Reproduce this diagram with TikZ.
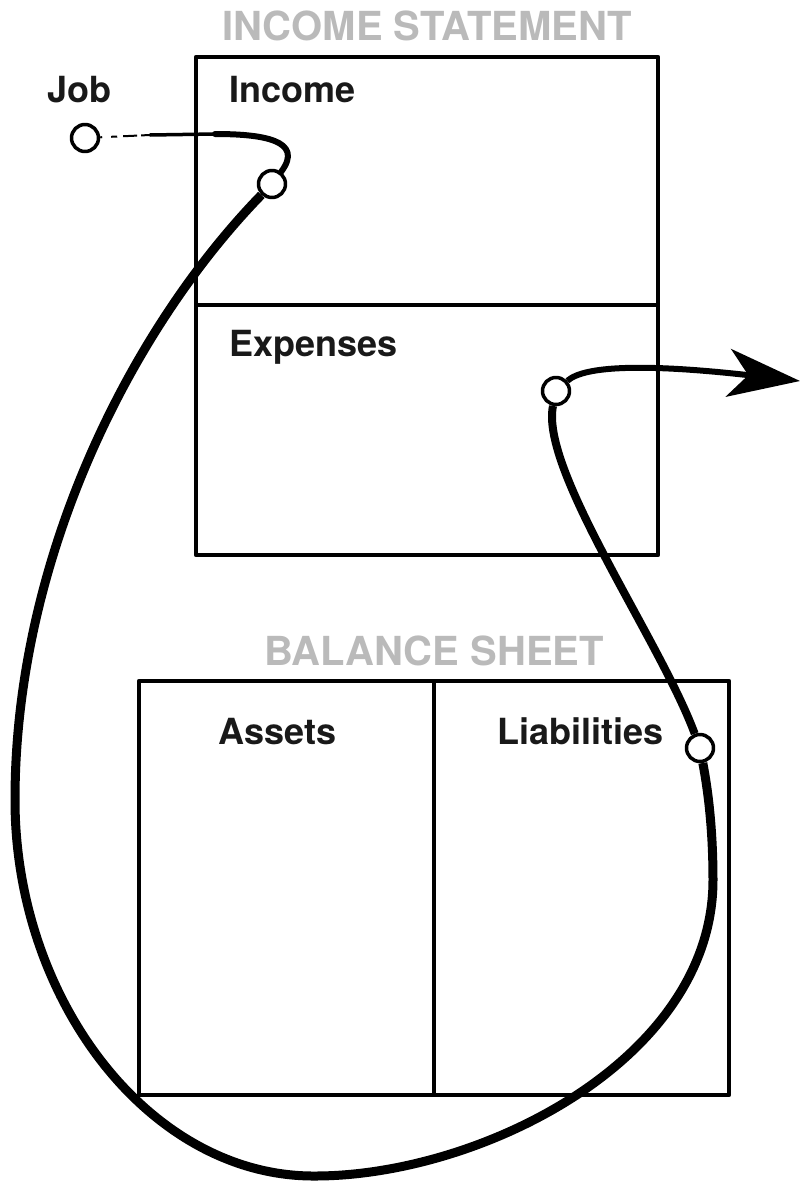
\documentclass[tikz,border=0pt]{standalone}
\usepackage{fontspec}
\setmainfont{TeX Gyre Heros}
\usetikzlibrary{arrows.meta}
\tikzstyle{port}=[circle,draw=black,line width=3.5pt,fill=white,minimum size=27pt,inner sep=0pt]
\tikzstyle{boxtext}=[anchor=base west,inner sep=0pt,text=black!90,font=\fontsize{36}{40}\selectfont\bfseries]
\tikzstyle{heading}=[anchor=base,inner sep=0pt,text=black!27,font=\fontsize{40}{44}\selectfont\bfseries]
\tikzstyle{frame}=[line width=4.5pt]
\tikzstyle{flow}=[line width=9pt]

\begin{document}
\begin{tikzpicture}[x=1pt,y=-1pt,line join=round]
  \useasboundingbox (0,0) rectangle (801,1181);

  \draw[frame] (196,57) rectangle (658,555) (196,305) -- (658,305);
  \draw[frame] (139,681) rectangle (729,1095) (434,681) -- (434,1095);

  \node[heading] (istitle) at (427,40)  {INCOME STATEMENT};
  \node[heading] (bstitle) at (434,665) {BALANCE SHEET};

  \node[boxtext] (jobtext) at (47,102)  {Job};
  \node[boxtext] (inctext) at (229,102) {Income};
  \node[boxtext] (exptext) at (229,356) {Expenses};
  \node[boxtext] (asstext) at (218,744) {Assets};
  \node[boxtext] (liatext) at (497,744) {Liabilities};

  \node[port] (jobc) at (85,138)  {};
  \node[port] (incc) at (272,184) {};
  \node[port] (expc) at (556,391) {};
  \node[port] (liac) at (700,748) {};
  \coordinate (fade) at (150,135);
  \coordinate (bend) at (215,134);
  \coordinate (out) at (800,381);

  \draw[line width=2pt,dash pattern=on 2pt off 9pt on 6pt off 6pt on 14pt off 4pt on 60pt]
    (jobc) -- (fade);
  \draw[line width=3.5pt,line cap=round] (fade) -- (bend);
  \draw[line width=6pt,line cap=round] (bend) .. controls (262,134) and (305,140) .. (incc);
  \draw[flow] (incc) .. controls (130,330) and (15,560) .. (15,800)
                     .. controls (15,1000) and (150,1177) .. (315,1176)
                     .. controls (480,1176) and (713,1060) .. (713,880)
                     .. controls (713,820) and (706,780) .. (liac);
  \draw[line width=8pt] (liac) .. controls (660,640) and (540,470) .. (expc);
  \draw[line width=6pt,-{Stealth[length=72pt,width=48pt,inset=20pt]}]
    (expc) .. controls (585,365) and (650,364) .. (out);
\end{tikzpicture}
\end{document}
